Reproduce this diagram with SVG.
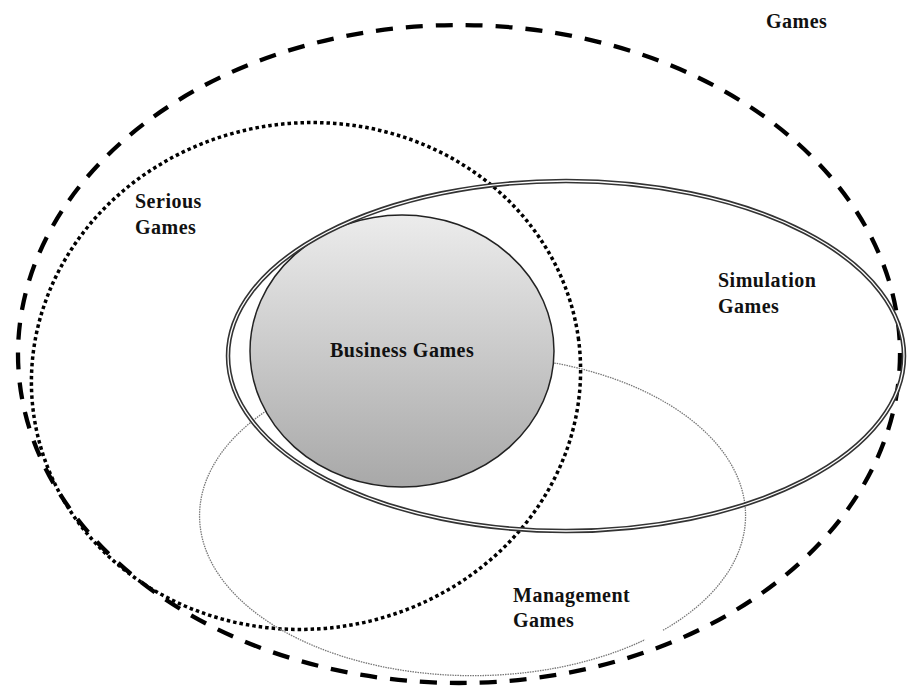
<svg xmlns="http://www.w3.org/2000/svg" width="908" height="686" viewBox="0 0 908 686">
<style>
.lbl{font-family:"Liberation Serif","Times New Roman",serif;font-weight:bold;font-size:20px;fill:#111;letter-spacing:0.5px}
</style>
<defs>
<linearGradient id="bg" x1="0" y1="0" x2="0" y2="1">
<stop offset="0" stop-color="#ececec"/>
<stop offset="1" stop-color="#a8a8a8"/>
</linearGradient>
</defs>
<rect width="908" height="686" fill="#fff"/>
<g id="games">
<ellipse cx="459" cy="354" rx="441" ry="329" fill="none" stroke="#000" stroke-width="4.3" stroke-dasharray="17 13"/>
<text class="lbl" x="766" y="28">Games</text>
</g>
<g id="serious">
<ellipse cx="306" cy="376" rx="275" ry="253" transform="rotate(-8 306 376)" fill="none" stroke="#000" stroke-width="3.5" stroke-dasharray="3.5 3"/>
<text class="lbl" x="135" y="208">Serious</text>
<text class="lbl" x="135" y="234">Games</text>
</g>
<g id="management">
<path d="M663 630.3 A273 160 0 1 0 645 639.7" fill="none" stroke="#777" stroke-width="1.3" stroke-dasharray="1.5 1"/>
<text class="lbl" x="513" y="602">Management</text>
<text class="lbl" x="513" y="627">Games</text>
</g>
<g id="business">
<ellipse cx="402" cy="351" rx="152" ry="136" fill="url(#bg)" stroke="#222" stroke-width="1.5"/>
<text class="lbl" x="330" y="357">Business Games</text>
</g>
<g id="simulation">
<ellipse cx="566" cy="356" rx="338" ry="175" fill="none" stroke="#333" stroke-width="4.5"/>
<ellipse cx="566" cy="356" rx="338" ry="175" fill="none" stroke="#fff" stroke-width="1.3"/>
<text class="lbl" x="718" y="287">Simulation</text>
<text class="lbl" x="718" y="313">Games</text>
</g>
<g id="connectors"></g>
</svg>
